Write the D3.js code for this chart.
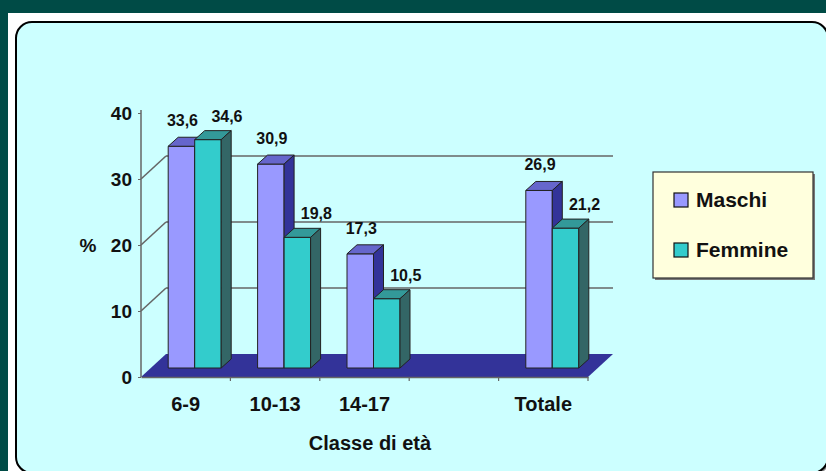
<!DOCTYPE html>
<html>
<head>
<meta charset="utf-8">
<script src="https://cdn.jsdelivr.net/npm/d3@7"></script>
<style>
  html, body { margin: 0; padding: 0; background: #004b46; }
  svg { display: block; }
  text { font-family: "Liberation Sans", Arial, sans-serif; font-weight: bold; fill: #111; }
</style>
</head>
<body>
<svg id="chart" width="826" height="471"></svg>
<script>
// ---- data ----
const categories = ["6-9", "10-13", "14-17", "", "Totale"];
const maschi = [33.6, 30.9, 17.3, null, 26.9];
const femmine = [34.6, 19.8, 10.5, null, 21.2];
const seriesNames = ["Maschi", "Femmine"];
const yTicks = [0, 10, 20, 30, 40];
const yLabel = "%";
const xTitle = "Classe di età";

// ---- styling / layout ----
const frontColors = ["#9999ff", "#33cccc"];
const topColors = ["#6666cc", "#339999"];
const sideColors = ["#333399", "#336666"];

const svg = d3.select("#chart");
const W = 826, H = 471;

// background frame
svg.append("rect").attr("width", W).attr("height", H).attr("fill", "#004b46");
svg.append("rect").attr("x", 8).attr("y", 13).attr("width", W).attr("height", H).attr("fill", "#ffffff");
svg.append("rect").attr("x", 17).attr("y", 23).attr("width", 812).attr("height", 451).attr("rx", 16)
  .attr("fill", "none").attr("stroke", "#888").attr("stroke-width", 2);
svg.append("rect").attr("x", 16).attr("y", 22).attr("width", 812).attr("height", 451).attr("rx", 16)
  .attr("fill", "#ccffff").attr("stroke", "#000").attr("stroke-width", 2);

// scales
const x = d3.scaleBand().domain(categories).range([141, 588]).paddingInner(0).paddingOuter(0);
const y = d3.scaleLinear().domain([0, 40]).range([377, 113]);
const DX = 25, DY = 23;        // back wall depth
const BX = 9, BY = 9;          // bar position in depth
const bdx = 10, bdy = 9;       // bar own depth
const barW = 26.5;
const fmt = v => d3.format(".1f")(v).replace(".", ",");

// back wall gridlines + connectors
const grid = svg.append("g").attr("stroke", "#666").attr("stroke-width", 1.6).attr("fill", "none");
[10, 20, 30].forEach(v => {
  grid.append("line").attr("x1", 141 + DX).attr("x2", x.range()[1] + DX)
    .attr("y1", y(v) - DY).attr("y2", y(v) - DY);
  grid.append("line").attr("x1", 141).attr("y1", y(v)).attr("x2", 141 + DX).attr("y2", y(v) - DY);
});

// floor
const x0r = x.range()[0], x1r = x.range()[1];
svg.append("polygon")
  .attr("points", [[x0r, y(0)], [x1r, y(0)], [x1r + DX, y(0) - DY], [x0r + DX, y(0) - DY]].map(p => p.join(",")).join(" "))
  .attr("fill", "#333399");

// axes
const yAxis = d3.axisLeft(y).tickValues(yTicks).tickSize(3).tickPadding(6);
const gy = svg.append("g").attr("transform", "translate(141,0)").call(yAxis);
gy.select(".domain").attr("stroke", "#666").attr("stroke-width", 1.5).attr("d", `M0,${y(40) - 3}V${y(0)}`);
gy.selectAll(".tick line").attr("stroke", "#666");
gy.selectAll(".tick text").attr("font-size", 19).attr("fill", "#111")
  .attr("font-family", '"Liberation Sans", Arial, sans-serif').attr("font-weight", "bold");

const xAxis = d3.axisBottom(x).tickSize(0).tickPadding(20);
const gx = svg.append("g").attr("transform", `translate(0,${y(0)})`).call(xAxis);
gx.select(".domain").attr("stroke", "#666").attr("stroke-width", 1.5);
gx.selectAll(".tick text").attr("font-size", 20).attr("fill", "#111")
  .attr("font-family", '"Liberation Sans", Arial, sans-serif').attr("font-weight", "bold");
// boundary ticks
categories.forEach((c, i) => {
  if (i === 0) return;
  svg.append("line").attr("x1", x(c)).attr("x2", x(c)).attr("y1", y(0)).attr("y2", y(0) + 4)
    .attr("stroke", "#666").attr("stroke-width", 1.2);
});
svg.append("line").attr("x1", x1r).attr("x2", x1r).attr("y1", y(0)).attr("y2", y(0) + 4)
  .attr("stroke", "#666").attr("stroke-width", 1.2);

// bars
const series = [maschi, femmine];
const barsG = svg.append("g").attr("stroke", "#222").attr("stroke-width", 1).attr("stroke-linejoin", "round");
const labels = [];
categories.forEach((c, ci) => {
  series.forEach((vals, si) => {
    const v = vals[ci];
    if (v == null) return;
    const cx = x(c) + x.bandwidth() / 2 + BX;
    const xa = cx - barW + si * barW;
    const xb = xa + barW;
    const top = y(v) - BY;
    const base = y(0) - BY;
    barsG.append("rect").attr("x", xa).attr("y", top).attr("width", barW).attr("height", base - top)
      .attr("fill", frontColors[si]);
    barsG.append("polygon").attr("points",
      [[xa, top], [xb, top], [xb + bdx, top - bdy], [xa + bdx, top - bdy]].map(p => p.join(",")).join(" "))
      .attr("fill", topColors[si]);
    barsG.append("polygon").attr("points",
      [[xb, top], [xb + bdx, top - bdy], [xb + bdx, base - bdy], [xb, base]].map(p => p.join(",")).join(" "))
      .attr("fill", sideColors[si]);
    labels.push({ x: xa + barW / 2 + (si === 0 ? 1 : 19), y: top - (si === 0 ? 20 : 18), t: fmt(v) });
  });
});
svg.append("g").selectAll("text").data(labels).join("text")
  .attr("x", d => d.x).attr("y", d => d.y).attr("text-anchor", "middle")
  .attr("font-size", 16).text(d => d.t);

// axis titles
svg.append("text").attr("x", 88).attr("y", 252).attr("text-anchor", "middle").attr("font-size", 19).text(yLabel);
svg.append("text").attr("x", 370).attr("y", 450).attr("text-anchor", "middle").attr("font-size", 20).text(xTitle);

// legend
const lg = svg.append("g");
lg.append("rect").attr("x", 655).attr("y", 174).attr("width", 160).attr("height", 106).attr("fill", "#777");
lg.append("rect").attr("x", 653).attr("y", 172).attr("width", 160).attr("height", 106)
  .attr("fill", "#ffffdd").attr("stroke", "#333").attr("stroke-width", 1.2);
seriesNames.forEach((n, i) => {
  const yy = 193 + i * 50;
  lg.append("rect").attr("x", 674).attr("y", yy).attr("width", 14).attr("height", 14)
    .attr("fill", frontColors[i]).attr("stroke", "#111").attr("stroke-width", 1.2);
  lg.append("text").attr("x", 696).attr("y", yy + 14).attr("font-size", 21).text(n);
});
</script>
</body>
</html>
